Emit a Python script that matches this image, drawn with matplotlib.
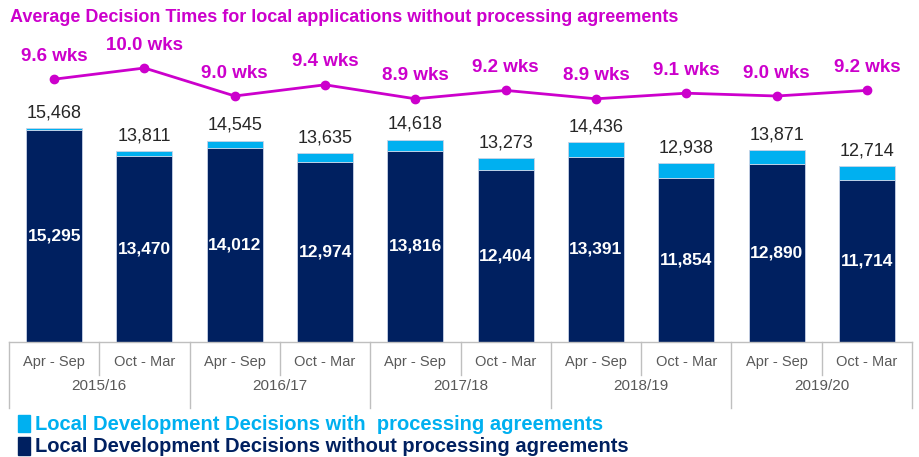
import matplotlib.pyplot as plt
import matplotlib.transforms as mtransforms
import numpy as np

plt.rcParams['font.family'] = ['Liberation Sans', 'DejaVu Sans']

halves = ["Apr - Sep", "Oct - Mar"] * 5
years = ["2015/16", "2016/17", "2017/18", "2018/19", "2019/20"]
totals = [15468, 13811, 14545, 13635, 14618, 13273, 14436, 12938, 13871, 12714]
without_pa = [15295, 13470, 14012, 12974, 13816, 12404, 13391, 11854, 12890, 11714]
weeks = [9.6, 10.0, 9.0, 9.4, 8.9, 9.2, 8.9, 9.1, 9.0, 9.2]

NAVY = "#002060"
LIGHT = "#00B0F0"
MAGENTA = "#CC00CC"
GREY = "#595959"

with_pa = [t - w for t, w in zip(totals, without_pa)]
x = np.arange(len(totals))

W, H = 919, 457
fig = plt.figure(figsize=(W / 100, H / 100), dpi=100)
left, right, bottom, top = 9 / W, 912 / W, 1 - 342 / H, 1 - 30 / H
ax = fig.add_axes([left, bottom, right - left, top - bottom])

ax.bar(x, without_pa, width=0.62, color=NAVY, edgecolor="#c9d3e6", linewidth=0.6)
ax.bar(x, with_pa, width=0.62, bottom=without_pa, color=LIGHT,
       edgecolor="#c9d3e6", linewidth=0.6)
ax.set_xlim(-0.5, len(totals) - 0.5)
ax.set_ylim(0, 312 / 0.01384)

for i, (t, w) in enumerate(zip(totals, without_pa)):
    ax.annotate(f"{t:,}", (i, t), xytext=(0, 11), textcoords="offset points",
                ha="center", va="center", fontsize=13, color="#262626")
    ax.text(i, w / 2, f"{w:,}", ha="center", va="center", fontsize=12.5,
            fontweight="bold", color="white")

ax2 = ax.twinx()
ax2.set_ylim(9 - 246 / 28, 9 + 66 / 28)
ax2.plot(x, weeks, color=MAGENTA, linewidth=2, marker="o", markersize=6)
for i, v in enumerate(weeks):
    ax2.annotate(f"{v:.1f} wks", (i, v), xytext=(0, 16.5), textcoords="offset points",
                 ha="center", va="center", fontsize=13.5, fontweight="bold",
                 color=MAGENTA)

for a in (ax, ax2):
    a.set_axis_off()

# category table below the bars
trans = mtransforms.blended_transform_factory(ax.transData, fig.transFigure)
y0 = 1 - 342 / H
ax.plot([-0.5, len(totals) - 0.5], [y0, y0], transform=trans, color="#bfbfbf",
        linewidth=1, clip_on=False)
for k in range(len(totals) + 1):
    edge = k - 0.5
    y1 = 1 - (408 if k % 2 == 0 else 375) / H
    ax.plot([edge, edge], [y0, y1], transform=trans, color="#bfbfbf",
            linewidth=1, clip_on=False)
for i, lab in enumerate(halves):
    ax.text(i, 1 - 362 / H, lab, transform=trans, ha="center", va="center",
            fontsize=10.5, color=GREY)
for j, lab in enumerate(years):
    ax.text(2 * j + 0.5, 1 - 386 / H, lab, transform=trans, ha="center", va="center",
            fontsize=11, color=GREY)

fig.text(10 / W, 1 - 18 / H, "Average Decision Times for local applications without processing agreements",
         ha="left", va="center", fontsize=13, fontweight="bold", color=MAGENTA)

# legend
fig.patches.append(plt.Rectangle((18 / W, 1 - 432 / H), 12 / W, 17 / H,
                                 transform=fig.transFigure, color=LIGHT))
fig.patches.append(plt.Rectangle((18 / W, 1 - 455 / H), 12 / W, 18 / H,
                                 transform=fig.transFigure, color=NAVY))
fig.text(35 / W, 1 - 424 / H, "Local Development Decisions with  processing agreements",
         ha="left", va="center", fontsize=14.5, fontweight="bold", color=LIGHT)
fig.text(35 / W, 1 - 446 / H, "Local Development Decisions without processing agreements",
         ha="left", va="center", fontsize=14.5, fontweight="bold", color=NAVY)

fig.savefig("out.png", dpi=100)
